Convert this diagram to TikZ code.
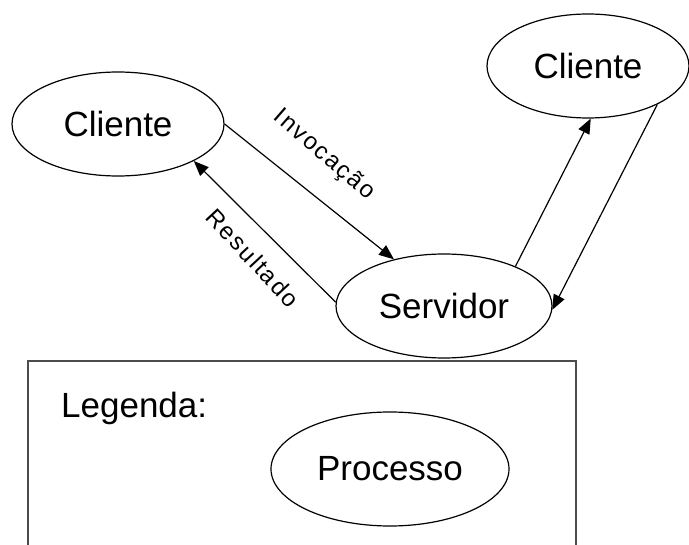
\documentclass[tikz,border=0pt]{standalone}
\usepackage{fontspec}
\setmainfont{Liberation Sans}
\usetikzlibrary{shapes.geometric,arrows.meta}

\begin{document}
\begin{tikzpicture}[x=1pt,y=-1pt,
  proc/.style={ellipse,draw=black,line width=1.2pt,inner sep=0pt,
    font=\fontsize{35}{40}\selectfont},
  link/.style={line width=1.2pt,-{Triangle[length=15pt,width=12pt]}},
  edgelabel/.style={inner sep=0pt,
    font=\fontsize{24}{26}\selectfont\addfontfeature{LetterSpace=8}},
  legendframe/.style={draw=black!70,line width=2pt}]

  \useasboundingbox (0,0) rectangle (689,545);

  % processes
  \node[proc,minimum width=212pt,minimum height=104pt] (cliA) at (118,124) {Cliente};
  \node[proc,minimum width=202pt,minimum height=104pt] (cliB) at (588,66) {Cliente};
  \node[proc,minimum width=216pt,minimum height=104pt] (srv) at (444,306) {Servidor};

  % request / reply between the left client and the server
  \draw[link] (cliA.east) -- (srv.137);
  \draw[link] (srv.178) -- (cliA.-26);
  \node[edgelabel,rotate=-41] (inv) at (324,155) {Invocação};
  \node[edgelabel,rotate=-47] (res) at (253,258) {Resultado};

  % exchange with the right client
  \draw[link] (srv.29) -- (cliB.-87);
  \draw[link] (cliB.-29) -- (srv.-2);

  % legend box, open at the bottom
  \coordinate (lgBL) at (28,548);
  \coordinate (lgTL) at (28,361);
  \coordinate (lgTR) at (576,361);
  \coordinate (lgBR) at (576,548);
  \draw[legendframe] (lgBL) -- (lgTL) -- (lgTR) -- (lgBR);
  \node[anchor=base west,inner sep=0pt,font=\fontsize{35}{40}\selectfont] (leg) at (61,418) {Legenda:};
  \node[proc,minimum width=238pt,minimum height=114pt] (proc) at (390,469) {Processo};
\end{tikzpicture}
\end{document}
